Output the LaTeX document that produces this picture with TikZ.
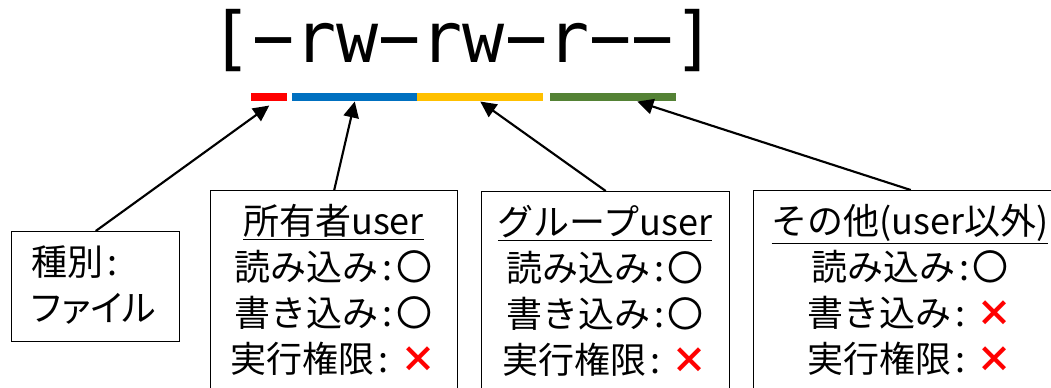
\documentclass[tikz,border=0pt]{standalone}
\usepackage{fontspec}
\newfontfamily\jp{Noto Sans CJK JP}
\newfontfamily\jpp[RawFeature=+palt]{Noto Sans CJK JP}
\newfontfamily\mono{DejaVu Sans Mono}
\usetikzlibrary{arrows.meta}
\definecolor{cred}{HTML}{FF0000}
\definecolor{cblue}{HTML}{0070C0}
\definecolor{cyellow}{HTML}{FFC000}
\definecolor{cgreen}{HTML}{548235}
\newcommand{\permno}{\textcolor{cred}{\bfseries ×}}
\newcommand{\permok}{〇}
\newcommand{\colsep}{\hspace{0.12em}:\hspace{0.1em}}
\begin{document}
\begin{tikzpicture}[x=0.75pt,y=-0.75pt,
  box/.style={draw, line width=1.1pt, inner sep=0pt, anchor=north west},
  bar/.style={draw=none, inner sep=0pt, minimum height=6pt, anchor=north west},
  arr/.style={line width=1.6pt, -{Triangle[length=12pt,width=11.5pt]}},
  txt/.style={font=\jp\fontsize{27pt}{34.5pt}\selectfont, align=center, inner sep=0pt}]
\useasboundingbox (0,0) rectangle (1051,387);
\clip (0,0) rectangle (1051,387);
% permission string
\node[font=\mono\fontsize{52.5pt}{60pt}\selectfont, inner sep=0pt] (perm) at (463,41) {[−rw−rw−r−−]};
% colour bars
\node[bar, fill=cred, minimum width=27pt] (red) at (251,93) {};
\node[bar, fill=cblue, minimum width=93.75pt] (blue) at (292,93) {};
\node[bar, fill=cyellow, minimum width=94.5pt] (yellow) at (417,93) {};
\node[bar, fill=cgreen, minimum width=94.5pt] (green) at (550,93) {};
% boxes
\node[box, minimum width=126pt, minimum height=82.5pt] (kind) at (11,231) {};
\node[txt, align=left, anchor=west] (kindtxt) at (31,285) {種別\colsep\\{\jpp ファイル}};
\node[box, minimum width=185.25pt, minimum height=165pt] (owner) at (210,190) {};
\node[txt] (ownertxt) at (333.5,290) {\underline{所有者user}\\読み込み\colsep\permok\\書き込み\colsep\permok\\実行権限\colsep\ \permno};
\node[box, minimum width=186pt, minimum height=165pt] (group) at (481,191) {};
\node[txt] (grouptxt) at (605,291) {\underline{グループuser}\\読み込み\colsep\permok\\書き込み\colsep\permok\\実行権限\colsep\ \permno};
\node[box, minimum width=235.5pt, minimum height=165pt] (other) at (753,190) {};
\node[txt] (othertxt) at (910,290) {\underline{その他(user以外)}\\読み込み\colsep\permok\\書き込み\colsep\ \permno\\実行権限\colsep\ \permno};
% arrows
\draw[arr] (kind.north) -- ([yshift=-3pt]red.south);
\draw[arr] (owner.north) -- (blue.south);
\draw[arr] (group.north) -- (yellow.south);
\draw[arr] (other.north) -- ([xshift=18pt]green.south);
\end{tikzpicture}
\end{document}
